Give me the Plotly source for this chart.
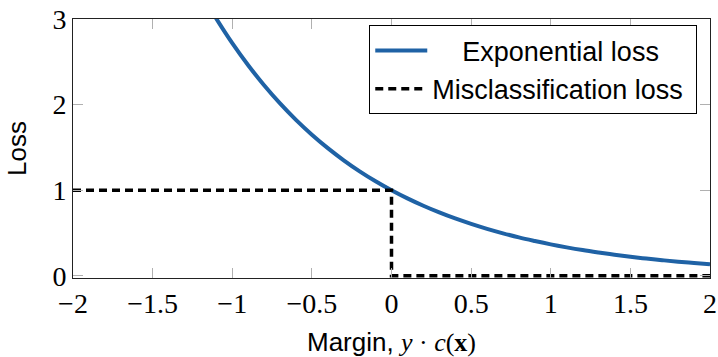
import plotly.graph_objects as go

# Exponential loss curve
exp_x = [-1.15, -1.1, -1.0, -0.9, -0.8, -0.7, -0.6, -0.5, -0.4, -0.3, -0.2, -0.1, 0.0,
         0.1, 0.2, 0.3, 0.4, 0.5, 0.6, 0.7, 0.8, 0.9, 1.0, 1.1, 1.2, 1.3, 1.4, 1.5,
         1.6, 1.7, 1.8, 1.9, 2.0]
exp_y = [3.158, 3.004, 2.718, 2.460, 2.226, 2.014, 1.822, 1.649, 1.492, 1.350, 1.221,
         1.105, 1.000, 0.905, 0.819, 0.741, 0.670, 0.607, 0.549, 0.497, 0.449, 0.407,
         0.368, 0.333, 0.301, 0.273, 0.247, 0.223, 0.202, 0.183, 0.165, 0.150, 0.135]

# Misclassification (0-1) loss
mis_x = [-2, 0, 0, 2]
mis_y = [1, 1, 0, 0]

x_ticks = [-2, -1.5, -1, -0.5, 0, 0.5, 1, 1.5, 2]
x_ticklabels = ["\u22122", "\u22121.5", "\u22121", "\u22120.5", "0", "0.5", "1", "1.5", "2"]
y_ticks = [0, 1, 2, 3]
y_ticklabels = ["0", "1", "2", "3"]

SANS = "Liberation Sans"
SERIF = "Liberation Serif"

fig = go.Figure()
fig.add_trace(go.Scatter(
    x=exp_x, y=exp_y, mode="lines", line_shape="spline",
    name="\u00a0\u00a0\u00a0\u00a0Exponential loss\u00a0",
    line=dict(color="#1f62a5", width=4),
))
fig.add_trace(go.Scatter(
    x=mis_x, y=mis_y, mode="lines",
    name="Misclassification loss\u00a0",
    line=dict(color="black", width=3.5, dash="8px,5px"),
))

axis_common = dict(
    showgrid=False, zeroline=False, showline=True, linecolor="#222", linewidth=1,
    mirror="ticks", ticks="inside", ticklen=10, tickwidth=1, tickcolor="#b0b0b0",
    tickfont=dict(family=SERIF, size=28, color="black"), automargin=False,
)

fig.update_layout(
    width=718, height=357,
    margin=dict(l=73, r=8, t=19, b=79),
    paper_bgcolor="white", plot_bgcolor="white",
    showlegend=True,
    legend=dict(
        x=0.98, y=0.975, xanchor="right", yanchor="top",
        bordercolor="black", borderwidth=1, bgcolor="white",
        font=dict(family=SANS, size=27, color="black"),
        itemwidth=52, tracegroupgap=0,
    ),
    xaxis=dict(
        range=[-2, 2], tickvals=x_ticks, ticktext=x_ticklabels,
        title=dict(
            text="Margin, <span style='font-family:Liberation Serif'><i>y</i> \u00b7 <i>c</i>(<b>x</b>)</span>",
            font=dict(family=SANS, size=26, color="black"), standoff=18,
        ),
        **axis_common,
    ),
    yaxis=dict(
        range=[-0.025, 3], tickvals=y_ticks, ticktext=y_ticklabels,
        title=dict(text="Loss", font=dict(family=SANS, size=26, color="black"), standoff=18),
        **axis_common,
    ),
)

fig.write_html(
    "out.html",
    config={"displayModeBar": False},
    post_script="document.body.style.margin='0';document.body.style.overflow='hidden';",
)
